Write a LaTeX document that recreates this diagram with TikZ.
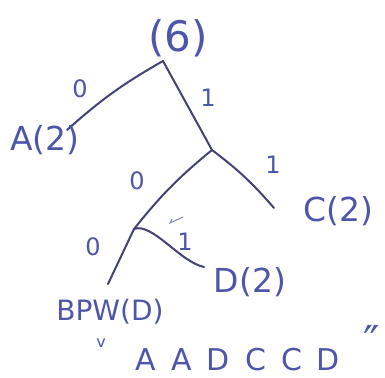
\documentclass[tikz,border=0pt]{standalone}
\usepackage{fontspec}
\setmainfont{DejaVu Sans}
\definecolor{ink}{RGB}{78,86,170}
\definecolor{edgeink}{RGB}{66,66,118}
\tikzset{
  treeedge/.style={draw=edgeink, line width=2pt, line cap=round},
  leaflabel/.style={text=ink, inner sep=0pt, font=\fontsize{33}{33}\selectfont},
  bitlabel/.style={text=ink, inner sep=0pt, font=\fontsize{24}{24}\selectfont},
}
\begin{document}
\begin{tikzpicture}[x=1pt,y=-1pt]
\useasboundingbox (0,0) rectangle (385,377);
% tree points
\coordinate (root) at (163,61);
\coordinate (n1) at (212,150);
\coordinate (n2) at (134,229);
\coordinate (aend) at (67,130);
\coordinate (cend) at (274,208);
\coordinate (dend) at (204,267);
\coordinate (bend) at (108,284);
% edges
\draw[treeedge] (root) to[bend right=6] (aend);
\draw[treeedge] (root) -- (n1);
\draw[treeedge] (n1) to[bend left=6] (cend);
\draw[treeedge] (n1) to[bend right=6] (n2);
\draw[treeedge] (n2) .. controls (152,222) and (180,262) .. (dend);
\draw[treeedge] (n2) -- (bend);
% small tick mark
\draw[draw=ink!70, line width=1pt, line cap=round] (183,217) -- (170,223) -- (172,219);
% texts
\node[leaflabel, font=\fontsize{42}{42}\selectfont] (rootlbl) at (178,38) {(6)};
\node[leaflabel] (alb) at (45,140) {A(2)};
\node[leaflabel] (clb) at (338,211) {C(2)};
\node[leaflabel] (dlb) at (250,282) {D(2)};
\node[leaflabel, font=\fontsize{28}{28}\selectfont] (blb) at (110,312) {BPW(D)};
\node[bitlabel] (b0a) at (80,89) {0};
\node[bitlabel] (b1a) at (208,98) {1};
\node[bitlabel] (b1b) at (273,165) {1};
\node[bitlabel] (b0b) at (137,181) {0};
\node[bitlabel] (b1c) at (185,242) {1};
\node[bitlabel] (b0c) at (93,247) {0};
\node[text=ink, inner sep=0pt, font=\fontsize{16}{16}\selectfont] (tick) at (101,343) {v};
\node[leaflabel, font=\fontsize{30}{30}\selectfont] (code) at (238,360) {A\hspace{15pt}A\hspace{15pt}D\hspace{15pt}C\hspace{15pt}C\hspace{15pt}D};
\node[leaflabel, font=\fontsize{44}{44}\selectfont] (quote) at (372,341) {″};
\end{tikzpicture}
\end{document}
